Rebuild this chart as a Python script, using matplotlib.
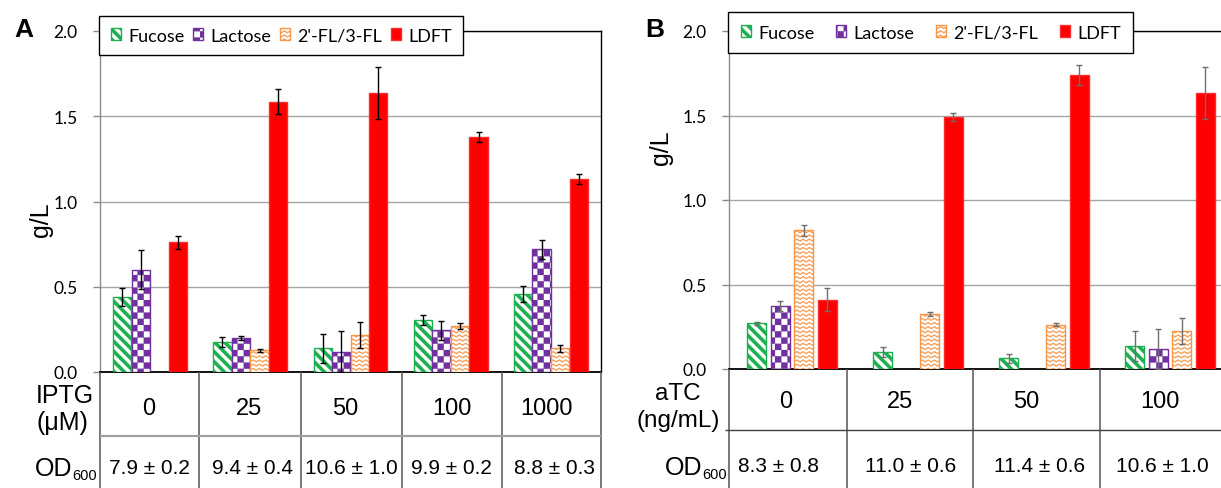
import warnings
import numpy as np
import matplotlib
matplotlib.use('Agg')
import matplotlib.pyplot as plt
import matplotlib.hatch as mhatch
from matplotlib.path import Path
from matplotlib.lines import Line2D
from matplotlib import font_manager

warnings.filterwarnings('ignore')

# ------------------------------------------------------------------ data
series = ['Fucose', 'Lactose', "2'-FL/3-FL", 'LDFT']

iptg_levels = ['0', '25', '50', '100', '1000']
iptg_od = ['7.9 ± 0.2', '9.4 ± 0.4', '10.6 ± 1.0', '9.9 ± 0.2', '8.8 ± 0.3']
a_fucose = [0.44, 0.175, 0.14, 0.305, 0.46]
a_fucose_err = [0.055, 0.03, 0.085, 0.03, 0.047]
a_lactose = [0.60, 0.20, 0.12, 0.245, 0.72]
a_lactose_err = [0.115, 0.013, 0.12, 0.055, 0.055]
a_fl = [np.nan, 0.127, 0.215, 0.27, 0.14]
a_fl_err = [np.nan, 0.008, 0.076, 0.018, 0.02]
a_ldft = [0.76, 1.585, 1.635, 1.378, 1.13]
a_ldft_err = [0.037, 0.073, 0.153, 0.03, 0.03]

atc_levels = ['0', '25', '50', '100']
atc_od = ['8.3 ± 0.8', '11.0 ± 0.6', '11.4 ± 0.6', '10.6 ± 1.0']
b_fucose = [0.27, 0.099, 0.063, 0.138]
b_fucose_err = [0.01, 0.03, 0.028, 0.089]
b_lactose = [0.375, np.nan, np.nan, 0.118]
b_lactose_err = [0.03, np.nan, np.nan, 0.118]
b_fl = [0.82, 0.326, 0.263, 0.223]
b_fl_err = [0.035, 0.01, 0.011, 0.076]
b_ldft = [0.41, 1.49, 1.74, 1.635]
b_ldft_err = [0.069, 0.025, 0.061, 0.153]

y_ticks = [0.0, 0.5, 1.0, 1.5, 2.0]


# ------------------------------------------------------------------ custom hatches
class _Stripe(mhatch.HatchPatternBase):
    K = 10
    W = 0.48

    def __init__(self, hatch, density):
        self.js = list(range(-2, 2 * self.K + 3)) if hatch.count('g') else []
        self.num_vertices = 5 * len(self.js)

    def set_vertices_and_codes(self, vertices, codes):
        K = self.K
        w = self.W / K
        for i, j in enumerate(self.js):
            c = j / K
            vertices[5 * i:5 * i + 5] = [(-0.2, c + 0.2), (1.2, c - 1.2),
                                         (1.2, c - 1.2 + w), (-0.2, c + 0.2 + w),
                                         (-0.2, c + 0.2)]
            codes[5 * i] = Path.MOVETO
            codes[5 * i + 1:5 * i + 4] = Path.LINETO
            codes[5 * i + 4] = Path.CLOSEPOLY


class _Checker(mhatch.HatchPatternBase):
    N = 16

    def __init__(self, hatch, density):
        self.cells = ([(i, j) for i in range(self.N) for j in range(self.N)
                       if (i + j) % 2 == 0] if hatch.count('c') else [])
        self.num_vertices = 5 * len(self.cells)

    def set_vertices_and_codes(self, vertices, codes):
        s = 1.0 / self.N
        for k, (i, j) in enumerate(self.cells):
            x0, y0 = i * s, j * s
            vertices[5 * k:5 * k + 5] = [(x0, y0), (x0 + s, y0), (x0 + s, y0 + s),
                                         (x0, y0 + s), (x0, y0)]
            codes[5 * k] = Path.MOVETO
            codes[5 * k + 1:5 * k + 4] = Path.LINETO
            codes[5 * k + 4] = Path.CLOSEPOLY


class _Zigzag(mhatch.HatchPatternBase):
    R = 24
    T = 16
    AMP = 0.45
    TH = 0.012

    def __init__(self, hatch, density):
        self.rows = list(range(-1, self.R + 1)) if hatch.count('z') else []
        self.npts = 2 * self.T + 1
        self.num_vertices = len(self.rows) * (2 * self.npts + 1)

    def set_vertices_and_codes(self, vertices, codes):
        xs = np.linspace(0, 1, self.npts)
        amp = self.AMP / self.R
        ys = np.where(np.arange(self.npts) % 2 == 0, 0.0, amp)
        m = 2 * self.npts + 1
        for r_i, r in enumerate(self.rows):
            y0 = r / self.R
            top = np.column_stack([xs, y0 + ys])
            bot = np.column_stack([xs[::-1], y0 + ys[::-1] + self.TH])
            poly = np.vstack([top, bot, top[:1]])
            vertices[m * r_i:m * (r_i + 1)] = poly
            codes[m * r_i] = Path.MOVETO
            codes[m * r_i + 1:m * (r_i + 1) - 1] = Path.LINETO
            codes[m * (r_i + 1) - 1] = Path.CLOSEPOLY


mhatch._hatch_types.extend([_Stripe, _Checker, _Zigzag])

# ------------------------------------------------------------------ fonts / style
avail = {f.name for f in font_manager.fontManager.ttflist}
CAL = 'Lato' if 'Lato' in avail else 'DejaVu Sans'
ARIAL = 'Liberation Sans' if 'Liberation Sans' in avail else 'DejaVu Sans'
plt.rcParams['font.family'] = [CAL, 'DejaVu Sans']
plt.rcParams['hatch.linewidth'] = 0.15

GREEN = '#1DB050'
PURPLE = '#7030A0'
ORANGE = '#F79646'
RED = '#FF0000'
styles = [
    dict(facecolor='white', edgecolor=GREEN, hatch='g'),
    dict(facecolor='white', edgecolor=PURPLE, hatch='c'),
    dict(facecolor='white', edgecolor=ORANGE, hatch='z'),
    dict(facecolor=RED, edgecolor='#FF2A2A', hatch=None),
]

W, H = 1221, 489
fig = plt.figure(figsize=(W / 100, H / 100), dpi=100)


def fx(px):
    return px / W


def fy(py):
    return 1 - py / H


axA = fig.add_axes([fx(100), fy(373), fx(601) - fx(100), fy(32) - fy(373)])
axB = fig.add_axes([fx(729), fy(370), fx(1233) - fx(729), fy(32) - fy(370)])


def draw_panel(ax, vals, errs, step, width, ecolor):
    n = len(vals[0])
    x = np.arange(n)
    handles = []
    for k, (v, e) in enumerate(zip(vals, errs)):
        v = np.asarray(v, float)
        e = np.asarray(e, float)
        m = np.isfinite(v)
        xs = x[m] + (k - 1.5) * step
        bc = ax.bar(xs, v[m], width, linewidth=1.0, zorder=3, label=series[k],
                    **styles[k])
        ax.errorbar(xs, v[m], yerr=e[m], fmt='none', ecolor=ecolor,
                    elinewidth=1.0, capsize=2.4, capthick=1.0, zorder=4)
        handles.append(bc)
    ax.set_xlim(-0.5, n - 0.5)
    ax.set_ylim(0, 2.0)
    ax.set_yticks(y_ticks)
    ax.set_yticklabels([f'{t:.1f}' for t in y_ticks])
    ax.set_xticks([])
    ax.yaxis.grid(True, color='#A6A6A6', linewidth=1.0, zorder=0)
    ax.set_axisbelow(True)
    ax.tick_params(axis='y', length=5, width=1.0, color='#8C8C8C', pad=11,
                   labelsize=12.5, labelcolor='black')
    for s in ['top', 'right']:
        ax.spines[s].set_color('black')
        ax.spines[s].set_linewidth(1.0)
    ax.spines['left'].set_color('#8C8C8C')
    ax.spines['left'].set_linewidth(1.0)
    ax.spines['bottom'].set_color('black')
    ax.spines['bottom'].set_linewidth(1.3)
    return handles


hA = draw_panel(axA, [a_fucose, a_lactose, a_fl, a_ldft],
                [a_fucose_err, a_lactose_err, a_fl_err, a_ldft_err],
                0.185, 0.183, 'black')
hB = draw_panel(axB, [b_fucose, b_lactose, b_fl, b_ldft],
                [b_fucose_err, b_lactose_err, b_fl_err, b_ldft_err],
                0.186, 0.15, '#6E6E6E')


def add_legend(ax, handles, x0, y0, colsp, bpad):
    leg = ax.legend(handles, series, loc='upper left', bbox_to_anchor=(fx(x0), fy(y0)),
                    bbox_transform=fig.transFigure, ncol=4, frameon=True,
                    fancybox=False, edgecolor='black', framealpha=1, borderpad=bpad,
                    handlelength=0.58, handleheight=0.62, handletextpad=0.38,
                    columnspacing=colsp, borderaxespad=0, fontsize=13)
    leg.get_frame().set_linewidth(1.0)
    leg.set_zorder(10)
    return leg


add_legend(axA, hA, 99, 17, 0.48, 0.64)
add_legend(axB, hB, 728, 13, 1.2, 0.7)

# ------------------------------------------------------------------ labels
fig.text(fx(24), fy(30), 'A', fontsize=19, fontweight='bold', family=ARIAL,
         ha='center', va='center')
fig.text(fx(655), fy(30), 'B', fontsize=19, fontweight='bold', family=ARIAL,
         ha='center', va='center')
fig.text(fx(41), fy(220), 'g/L', fontsize=18, family=ARIAL, rotation=90,
         ha='center', va='center')
fig.text(fx(661), fy(148), 'g/L', fontsize=18, family=ARIAL, rotation=90,
         ha='center', va='center')


def fline(x0, y0, x1, y1, color, lw):
    fig.add_artist(Line2D([fx(x0), fx(x1)], [fy(y0), fy(y1)], transform=fig.transFigure,
                          color=color, linewidth=lw, solid_capstyle='butt'))


# table A
for xp in [100, 199, 301, 402, 502, 601]:
    fline(xp, 373, xp, 489, '#555555', 1.1)
fline(100, 437, 601, 437, '#A0A0A0', 1.6)
fig.text(fx(65), fy(403), 'IPTG', fontsize=18, family=ARIAL, ha='center', va='baseline')
fig.text(fx(62), fy(430), '(μM)', fontsize=18, family=ARIAL, ha='center', va='baseline')
for xp, lab in zip([149, 249, 345, 452, 546], iptg_levels):
    fig.text(fx(xp), fy(415), lab, fontsize=17, family=ARIAL, ha='center', va='baseline')
fig.text(fx(72), fy(476), 'OD', fontsize=18, family=ARIAL, ha='right', va='baseline')
fig.text(fx(72), fy(480), '600', fontsize=10.5, family=ARIAL, ha='left', va='baseline')
for xp, lab in zip([149, 253, 351, 451, 555], iptg_od):
    fig.text(fx(xp), fy(474), lab, fontsize=15, family=ARIAL, ha='center', va='baseline')

# table B
for xp in [729, 847, 973, 1100]:
    fline(xp, 370, xp, 489, '#555555', 1.1)
fline(725, 431, 1221, 431, '#404040', 1.0)
fig.text(fx(678), fy(400), 'aTC', fontsize=17.5, family=ARIAL, ha='center', va='baseline')
fig.text(fx(678), fy(427), '(ng/mL)', fontsize=17.5, family=ARIAL, ha='center', va='baseline')
for xp, lab in zip([786, 900, 1026, 1160], atc_levels):
    fig.text(fx(xp), fy(408), lab, fontsize=17, family=ARIAL, ha='center', va='baseline')
fig.text(fx(702), fy(475), 'OD', fontsize=18, family=ARIAL, ha='right', va='baseline')
fig.text(fx(702), fy(479), '600', fontsize=10.5, family=ARIAL, ha='left', va='baseline')
for xp, lab in zip([779, 911, 1040, 1162], atc_od):
    fig.text(fx(xp), fy(472), lab, fontsize=15, family=ARIAL, ha='center', va='baseline')

fig.savefig('out.png', dpi=100, facecolor='white')
